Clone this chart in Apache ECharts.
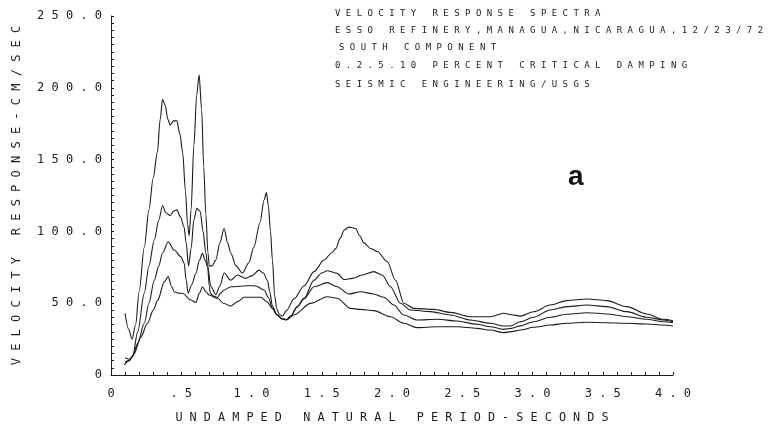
<!DOCTYPE html>
<html>
<head>
<meta charset="utf-8">
<script src="https://cdn.jsdelivr.net/npm/echarts@6/dist/echarts.min.js"></script>
<style>html,body{margin:0;padding:0;background:#fff;}#c{width:771px;height:430px;}</style>
</head>
<body>
<div id="c"></div>
<script>
// ---- data (period in seconds, velocity response in cm/sec) ----
const seriesNames = ['0 %', '2 %', '5 %', '10 %'];
const damp0 = [[0.10,43],[0.125,32],[0.15,25],[0.175,35],[0.20,58],[0.237,89],[0.27,115],[0.30,137],[0.33,155],[0.35,178],[0.367,192],[0.385,188],[0.405,178],[0.421,174],[0.445,177],[0.469,177],[0.49,168],[0.51,155],[0.53,128],[0.545,105],[0.556,97],[0.57,115],[0.59,160],[0.61,195],[0.627,209],[0.645,185],[0.66,145],[0.675,112],[0.69,85],[0.70,76],[0.72,76],[0.746,80],[0.775,92],[0.805,102],[0.83,92],[0.852,85],[0.89,76],[0.936,71],[0.98,78],[1.017,89],[1.06,106],[1.09,122],[1.106,127],[1.12,118],[1.135,100],[1.149,80],[1.165,55],[1.18,46],[1.20,42],[1.22,41],[1.25,45],[1.302,53],[1.374,62],[1.445,72],[1.516,80],[1.57,85],[1.60,88],[1.63,95],[1.66,101],[1.693,103],[1.741,102],[1.77,97],[1.80,92],[1.85,88],[1.895,86],[1.966,79],[2.025,66],[2.084,50],[2.155,46.4],[2.297,45.7],[2.416,43.6],[2.558,40.6],[2.70,40.6],[2.794,43],[2.85,42],[2.913,41],[3.008,44],[3.126,48.7],[3.245,51.8],[3.387,52.9],[3.529,51.8],[3.671,47.6],[3.813,42.5],[3.931,38.8],[4.0,37.8]];
const damp2 = [[0.10,12],[0.13,11],[0.154,13],[0.19,30],[0.237,57],[0.27,76],[0.308,94],[0.34,108],[0.367,118],[0.39,113],[0.421,111],[0.445,114],[0.469,115],[0.495,110],[0.52,103],[0.535,92],[0.552,76],[0.57,88],[0.59,108],[0.611,116],[0.635,114],[0.655,100],[0.675,85],[0.687,77],[0.71,62],[0.746,56],[0.775,62],[0.805,71],[0.853,66],[0.90,69.6],[0.959,67.3],[1.0,69],[1.054,73],[1.085,71],[1.113,66],[1.13,58],[1.149,48],[1.18,42],[1.22,39],[1.25,38.5],[1.28,41],[1.32,47],[1.374,53.4],[1.445,66],[1.50,71],[1.539,72.6],[1.61,70.8],[1.658,66.5],[1.717,67.3],[1.788,69.6],[1.871,72],[1.93,69.6],[1.989,61.5],[2.06,50],[2.131,45.3],[2.274,44.1],[2.416,41.8],[2.558,38.3],[2.70,36],[2.794,34.1],[2.842,34.1],[2.913,37.1],[3.008,40.2],[3.126,45.3],[3.245,47.6],[3.387,48.7],[3.529,47.6],[3.671,44.1],[3.813,40.2],[3.931,38.3],[4.0,37.1]];
const damp5 = [[0.10,9],[0.13,10],[0.154,13],[0.19,22],[0.237,36],[0.27,50],[0.308,66],[0.34,76],[0.367,85],[0.407,92.8],[0.45,87],[0.497,82.4],[0.521,77.8],[0.535,66],[0.549,57],[0.575,63],[0.604,70.8],[0.63,80],[0.651,84.7],[0.67,80],[0.687,75.4],[0.70,62],[0.706,57],[0.73,55],[0.758,54],[0.78,57],[0.805,59.2],[0.853,61.5],[0.971,62.2],[1.03,62],[1.09,59.2],[1.12,54],[1.149,46.4],[1.18,42],[1.22,39],[1.25,38.5],[1.279,41],[1.33,48],[1.374,53],[1.445,61.5],[1.539,64.3],[1.61,61.5],[1.693,56.4],[1.776,58],[1.871,56.4],[1.942,54.1],[2.013,48.7],[2.084,41.8],[2.179,38.3],[2.321,38.8],[2.463,37.6],[2.605,35.3],[2.70,33.6],[2.794,31.8],[2.85,32.5],[2.913,34.2],[3.008,37.1],[3.126,40.2],[3.245,42.3],[3.387,43.4],[3.529,42.5],[3.671,40.6],[3.813,38.8],[3.931,37.1],[4.0,36.4]];
const damp10 = [[0.095,7],[0.13,10],[0.166,15],[0.21,26],[0.26,36],[0.30,45],[0.332,52],[0.38,65],[0.407,68.5],[0.43,62],[0.45,58],[0.48,57],[0.509,56.9],[0.568,52.2],[0.604,50.6],[0.63,57],[0.651,61.5],[0.675,58],[0.699,55.7],[0.758,53.4],[0.80,50],[0.853,48],[0.90,51],[0.947,54.1],[1.066,54.1],[1.11,51],[1.149,46.4],[1.18,42],[1.22,39],[1.25,38.5],[1.302,41.8],[1.421,49.9],[1.539,54.5],[1.61,53.4],[1.705,46.4],[1.776,45.7],[1.871,44.8],[1.989,40.6],[2.084,36],[2.179,33],[2.321,33.6],[2.463,33.6],[2.605,32.5],[2.70,31.3],[2.794,29.5],[2.85,30.2],[2.913,31.3],[3.008,33.2],[3.126,34.8],[3.245,36],[3.387,36.7],[3.529,36.4],[3.671,36],[3.813,35.5],[3.931,34.8],[4.0,34.1]];
const titleLines = ['VELOCITY RESPONSE SPECTRA','ESSO REFINERY,MANAGUA,NICARAGUA,12/23/72','SOUTH COMPONENT','0.2.5.10 PERCENT CRITICAL DAMPING','SEISMIC ENGINEERING/USGS'];
const yAxisTitle = 'VELOCITY RESPONSE-CM/SEC';
const xAxisTitle = 'UNDAMPED NATURAL PERIOD-SECONDS';
const panelLetter = 'a';

// ---- rendering ----
const MONO = '"DejaVu Sans Mono", "Liberation Mono", monospace';
const INK = '#1c1c1c';
function sp(s){ return s.split('').join(' '); }

const chart = echarts.init(document.getElementById('c'), null, {renderer:'canvas'});
const titleY = [15, 32, 49, 67, 86];
const titleX = [335, 335, 339, 335, 335];
const graphics = titleLines.map((t,i)=>({
  type:'text', left:titleX[i], top:titleY[i]-6,
  style:{text:sp(t), font:'9px '+MONO, fill:INK}
}));
graphics.push({type:'text', left:568, top:163, style:{text:panelLetter, font:'bold 28px "Liberation Sans", Arial, sans-serif', fill:'#111'}});

const data = [damp0, damp2, damp5, damp10];
chart.setOption({
  animation:false,
  backgroundColor:'#fff',
  grid:{left:111, right:98, top:16, bottom:55, containLabel:false},
  xAxis:{
    type:'value', min:0, max:4, interval:0.5,
    name:sp(xAxisTitle), nameLocation:'middle', nameGap:37,
    nameTextStyle:{fontFamily:MONO, fontSize:11.8, color:INK},
    axisLine:{show:true, lineStyle:{color:INK, width:1}},
    axisTick:{show:true, inside:true, length:3, lineStyle:{color:INK}},
    minorTick:{show:true, splitNumber:5, length:3, lineStyle:{color:INK}},
    splitLine:{show:false},
    axisLabel:{fontFamily:MONO, fontSize:12, color:INK, margin:13,
      formatter:v=> v===0 ? '0' : (v===0.5 ? sp('.5') : sp(v.toFixed(1)))}
  },
  yAxis:{
    type:'value', min:0, max:250, interval:50,
    name:sp(yAxisTitle), nameLocation:'middle', nameGap:88, nameRotate:90,
    nameTextStyle:{fontFamily:MONO, fontSize:12, color:INK},
    axisLine:{show:true, lineStyle:{color:INK, width:1}},
    axisTick:{show:true, inside:true, length:3, lineStyle:{color:INK}},
    minorTick:{show:true, splitNumber:10, length:3, lineStyle:{color:INK}},
    splitLine:{show:false},
    axisLabel:{fontFamily:MONO, fontSize:12, color:INK, margin:9,
      formatter:v=> v===0 ? '0' : sp(v.toFixed(1))}
  },
  series:data.map((d,i)=>({
    name:seriesNames[i], type:'line', data:d, showSymbol:false, symbol:'none',
    smooth:0.3, smoothMonotone:'x',
    lineStyle:{color:INK, width:1.1}
  })),
  graphic:graphics
});
</script>
</body>
</html>
